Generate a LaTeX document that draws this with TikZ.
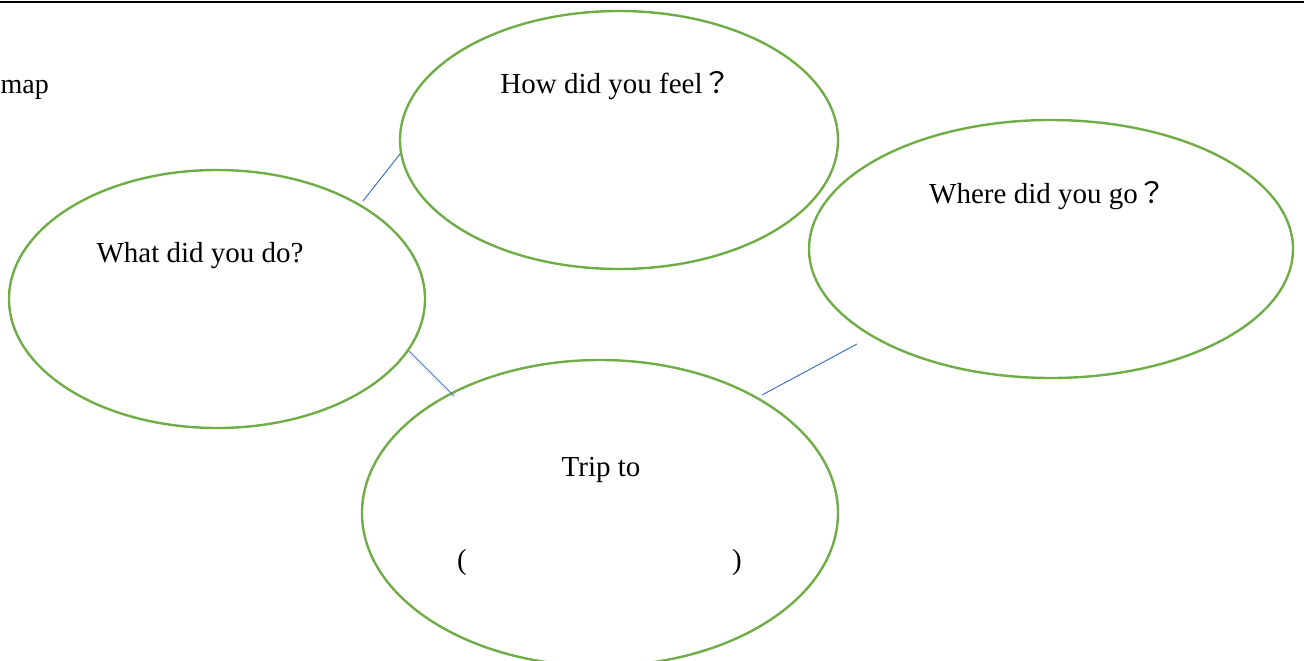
\documentclass[tikz,border=0pt]{standalone}
\usepackage{fontspec}
\setmainfont{Liberation Serif}
\newfontfamily\cjk{Noto Sans CJK JP}
\usetikzlibrary{shapes.geometric}
\definecolor{bubblegreen}{HTML}{70AD47}
\definecolor{linkblue}{HTML}{4472C4}
\begin{document}
\begin{tikzpicture}[x=1pt,y=-1pt,
  bubble/.style={ellipse,draw=bubblegreen,line width=2.4pt,inner sep=0pt},
  link/.style={draw=linkblue,line width=1pt},
  lbl/.style={font=\fontsize{29}{34}\selectfont,inner sep=0pt,anchor=base}]
\useasboundingbox (0,0) rectangle (1304,661);
\clip (0,0) rectangle (1304,661);
\draw[line width=2pt] (0,2) -- (1304,2);
\node[lbl,anchor=base west,font=\fontsize{28}{34}\selectfont] (maptxt) at (0.5,93) {map};
% bubbles
\node[bubble,minimum width=438pt,minimum height=258pt] (feel) at (619,140) {};
\node[bubble,minimum width=484pt,minimum height=258pt] (where) at (1051,249) {};
\node[bubble,minimum width=416pt,minimum height=258pt] (what) at (217,299) {};
\node[bubble,minimum width=476pt,minimum height=306pt] (trip) at (600,513) {};
% labels
\node[lbl] (feeltxt) at (616,93) {How did you feel{\cjk ？}};
\node[lbl] (wheretxt) at (1048,203) {Where did you go{\cjk ？}};
\node[lbl] (whattxt) at (200,262) {What did you do?};
\node[lbl] (triptxt) at (601,476) {Trip to};
\node[lbl] (lpar) at (462,569) {(};
\node[lbl] (rpar) at (737,569) {)};
% connectors
\coordinate (c1a) at (363,201);
\coordinate (c1b) at (400,154);
\coordinate (c2a) at (409,351);
\coordinate (c2b) at (454,396);
\coordinate (c3a) at (857,344);
\coordinate (c3b) at (762,395);
\draw[link] (c1a) -- (c1b);
\draw[link] (c2a) -- (c2b);
\draw[link] (c3a) -- (c3b);
\end{tikzpicture}
\end{document}
